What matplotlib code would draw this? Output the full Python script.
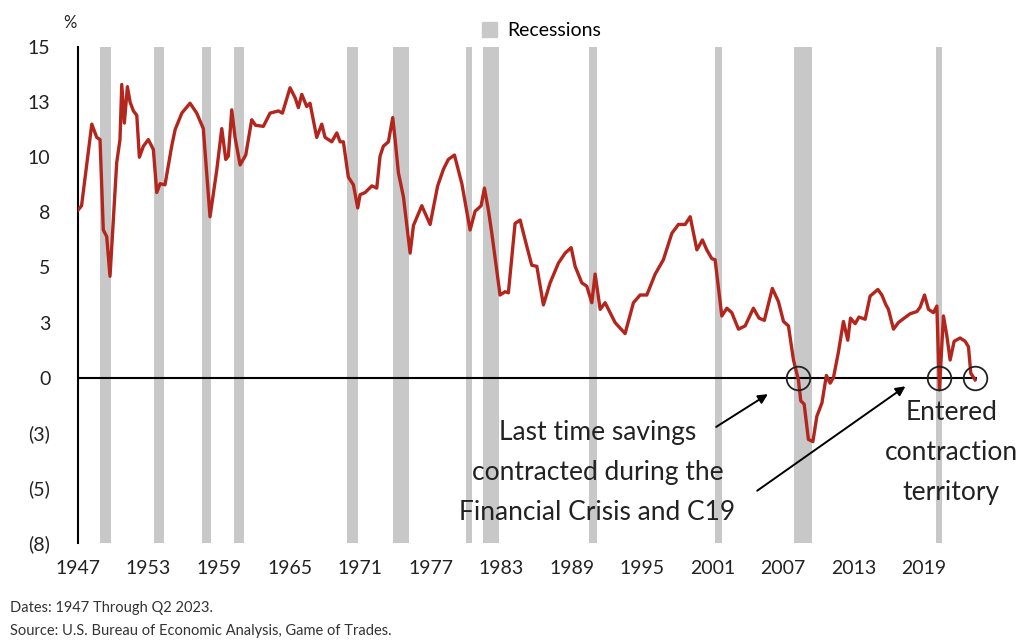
import matplotlib
matplotlib.use("Agg")
import matplotlib.pyplot as plt
from matplotlib.patches import Patch

plt.rcParams['font.family'] = ['Lato', 'DejaVu Sans']

# savings rate, %, read as (year, value) points
years = [1947.0, 1947.3, 1948.17, 1948.59, 1948.87, 1949.15, 1949.44, 1949.72, 1950.29, 1950.57,
         1950.72, 1950.94, 1951.2, 1951.43, 1951.71, 1952.0, 1952.22, 1952.56, 1952.98, 1953.41,
         1953.7, 1953.98, 1954.4, 1954.97, 1955.26, 1955.83, 1956.53, 1957.1, 1957.66, 1958.23,
         1958.8, 1959.23, 1959.57, 1959.79, 1960.08, 1960.36, 1960.79, 1961.27, 1961.78, 1962.1,
         1962.77, 1963.34, 1964.05, 1964.39, 1965.04, 1965.47, 1965.75, 1966.04, 1966.46, 1966.74,
         1967.31, 1967.74, 1968.02, 1968.59, 1969.02, 1969.3, 1969.58, 1970.0, 1970.43, 1970.8,
         1971.0, 1971.43, 1972.0, 1972.42, 1972.7, 1972.98, 1973.41, 1973.78, 1973.98, 1974.26,
         1974.69, 1975.26, 1975.54, 1976.25, 1976.96, 1977.6, 1978.09, 1978.51, 1979.03, 1979.66,
         1980.36, 1980.79, 1981.3, 1981.58, 1981.92, 1982.21, 1982.91, 1983.34, 1983.62, 1984.19,
         1984.62, 1985.19, 1985.61, 1986.04, 1986.6, 1987.17, 1987.88, 1988.45, 1988.96, 1989.3,
         1989.87, 1990.29, 1990.72, 1991.0, 1991.43, 1991.85, 1992.28, 1992.7, 1993.55, 1994.26,
         1994.83, 1995.4, 1996.11, 1996.81, 1997.53, 1998.09, 1998.66, 1999.09, 1999.66, 2000.13,
         2000.5, 2000.93, 2001.21, 2001.78, 2002.21, 2002.63, 2003.2, 2003.77, 2004.47, 2004.95,
         2005.4, 2006.08, 2006.6, 2007.03, 2007.45, 2007.88, 2008.3, 2008.5, 2008.79, 2009.15,
         2009.53, 2009.87, 2010.3, 2010.68, 2011.0, 2011.28, 2011.7, 2012.13, 2012.5, 2012.73,
         2013.13, 2013.45, 2013.98, 2014.4, 2015.06, 2015.4, 2015.75, 2015.96, 2016.39, 2016.81,
         2017.3, 2017.81, 2018.38, 2018.66, 2019.03, 2019.37, 2019.79, 2020.08, 2020.3, 2020.64,
         2020.93, 2021.21, 2021.55, 2022.06, 2022.49, 2022.77, 2022.97, 2023.34]
rate = [7.6, 7.8, 11.5, 10.9, 10.8, 6.7, 6.4, 4.6, 9.75, 10.8,
        13.3, 11.55, 13.2, 12.5, 12.1, 11.9, 10.0, 10.5, 10.8, 10.35,
        8.4, 8.8, 8.75, 10.5, 11.25, 12.0, 12.45, 12.0, 11.3, 7.3,
        9.4, 11.3, 9.9, 10.05, 12.15, 10.9, 9.65, 10.1, 11.7, 11.45,
        11.4, 12.0, 12.1, 12.0, 13.15, 12.7, 12.25, 12.85, 12.3, 12.45,
        10.9, 11.5, 10.9, 10.7, 11.1, 10.7, 10.7, 9.1, 8.75, 7.7,
        8.3, 8.4, 8.7, 8.6, 10.05, 10.5, 10.7, 11.8, 10.8, 9.3,
        8.2, 5.65, 6.9, 7.8, 6.95, 8.7, 9.45, 9.9, 10.1, 8.8,
        6.7, 7.55, 7.8, 8.6, 7.6, 6.55, 3.75, 3.9, 3.85, 7.0,
        7.15, 5.95, 5.1, 5.05, 3.3, 4.3, 5.2, 5.65, 5.9, 5.05,
        4.3, 4.15, 3.4, 4.7, 3.1, 3.4, 2.95, 2.5, 2.0, 3.4,
        3.75, 3.75, 4.7, 5.35, 6.55, 6.95, 6.95, 7.3, 5.8, 6.25,
        5.8, 5.4, 5.35, 2.8, 3.15, 2.95, 2.2, 2.35, 3.15, 2.7,
        2.6, 4.05, 3.45, 2.55, 2.35, 0.8, -0.1, -1.05, -1.2, -2.8,
        -2.9, -1.75, -1.15, 0.1, -0.25, 0.0, 1.15, 2.55, 1.7, 2.7,
        2.45, 2.75, 2.65, 3.7, 4.0, 3.75, 3.3, 3.1, 2.2, 2.5,
        2.7, 2.9, 3.0, 3.2, 3.75, 3.1, 2.95, 3.25, -0.55, 2.8,
        1.9, 0.8, 1.65, 1.8, 1.65, 1.4, 0.2, -0.1]

# NBER recessions (start, end)
recessions = [(1948.83, 1949.83), (1953.5, 1954.33), (1957.58, 1958.33), (1960.25, 1961.08),
              (1969.92, 1970.83), (1973.83, 1975.17), (1980.0, 1980.5), (1981.5, 1982.83),
              (1990.5, 1991.17), (2001.17, 2001.83), (2007.92, 2009.42), (2020.0, 2020.5)]

# where savings went negative
crossings = [2008.3, 2020.3, 2023.34]

yticks = [15, 12.5, 10, 7.5, 5, 2.5, 0, -2.5, -5, -7.5]
ylabels = ['15', '13', '10', '8', '5', '3', '0', '(3)', '(5)', '(8)']
xticks = [1947, 1953, 1959, 1965, 1971, 1977, 1983, 1989, 1995, 2001, 2007, 2013, 2019]

fig = plt.figure(figsize=(10.35, 6.43), dpi=100)
ax = fig.add_axes([0.0754, 0.1555, 0.8686, 0.7714])

for s, e in recessions:
    ax.axvspan(s, e, color='#c8c8c8', lw=0, zorder=0)

ax.plot(years, rate, color='#b3261e', lw=2.4, zorder=3)
ax.axhline(0, color='black', lw=1.5, zorder=2)

ax.plot(crossings, [0] * len(crossings), 'o', ms=17, mfc='none', mec='#222222', mew=1.3,
        zorder=4, clip_on=False)

ax.set_xlim(1947, 2023.5)
ax.set_ylim(-7.5, 15)
ax.set_yticks(yticks)
ax.set_yticklabels(ylabels)
ax.set_xticks(xticks)
ax.set_xticklabels([str(x) for x in xticks])
ax.tick_params(axis='y', length=0, pad=20, labelsize=14, colors='#222222')
ax.tick_params(axis='x', length=0, pad=12, labelsize=14, colors='#222222')
for side in ['top', 'right', 'bottom']:
    ax.spines[side].set_visible(False)
ax.spines['left'].set_color('black')
ax.spines['left'].set_linewidth(1.5)

# annotations
ax.text(1991.2, -4.3, 'Last time savings\ncontracted during the\nFinancial Crisis and C19',
        ha='center', va='center', fontsize=19, linespacing=1.75, color='#222222')
ax.text(2021.3, -3.4, 'Entered\ncontraction\nterritory',
        ha='center', va='center', fontsize=19, linespacing=1.75, color='#222222')
arrow = dict(arrowstyle='-|>', color='black', lw=1.4, mutation_scale=14)
ax.annotate('', xy=(2005.9, -0.68), xytext=(2001.1, -2.3), arrowprops=arrow)
ax.annotate('', xy=(2017.6, -0.32), xytext=(2004.6, -5.2), arrowprops=arrow)

fig.text(0.068, 0.965, '%', fontsize=12, color='#222222', ha='center', va='center')
fig.legend(handles=[Patch(color='#c8c8c8', label='Recessions')], loc='center',
           bbox_to_anchor=(0.523, 0.952), frameon=False, fontsize=14,
           handlelength=0.8, handleheight=0.8, handletextpad=0.5)

fig.text(0.01, 0.054, 'Dates: 1947 Through Q2 2023.', fontsize=10.5, color='#333333',
         va='center', stretch='condensed')
fig.text(0.01, 0.018, 'Source: U.S. Bureau of Economic Analysis, Game of Trades.', fontsize=10.5,
         color='#333333', va='center', stretch='condensed')

fig.savefig('out.png', dpi=100)
